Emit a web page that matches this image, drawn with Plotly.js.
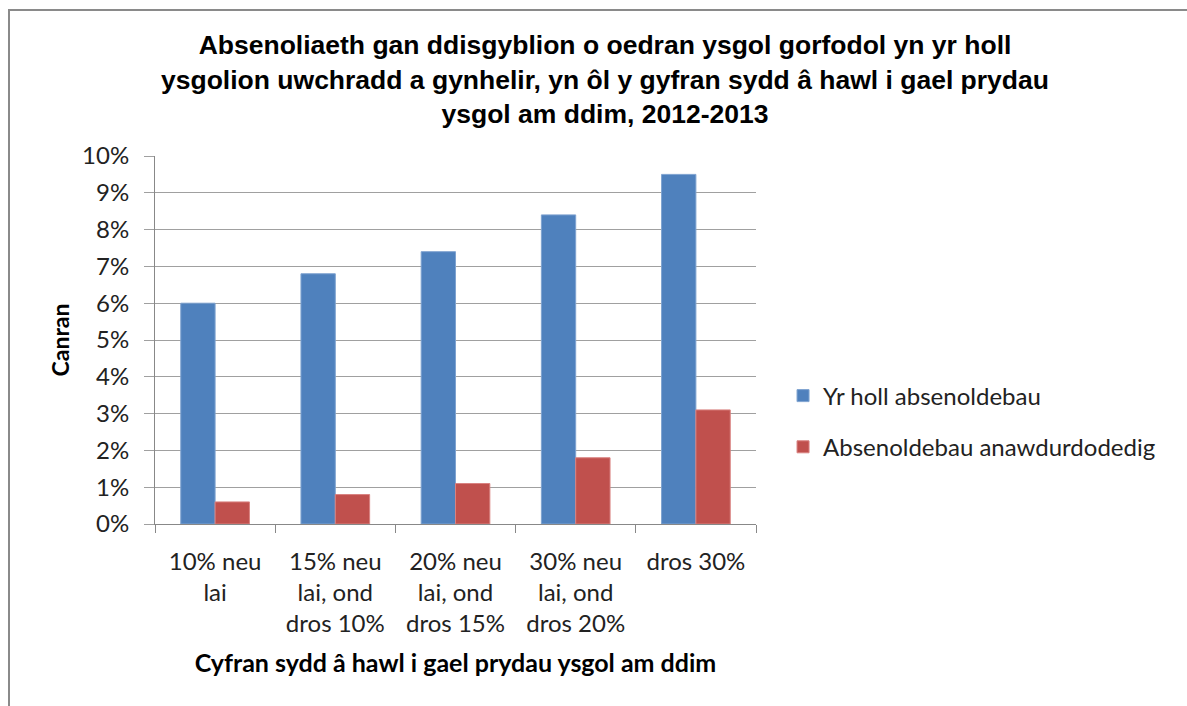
<!DOCTYPE html>
<html>
<head>
<meta charset="utf-8">
<script src="https://cdn.plot.ly/plotly-3.0.1.min.js"></script>
<style>
  html, body { margin: 0; padding: 0; background: #fff; }
  #wrap { position: relative; width: 1187px; height: 706px; overflow: hidden; }
  #frame { position: absolute; left: 8px; top: 9px; right: -10px; bottom: -10px;
           border-top: 2px solid #8a8a8a; border-left: 2px solid #8a8a8a; }
  #chart { position: absolute; left: 0; top: 0; width: 1187px; height: 706px; }
</style>
</head>
<body>
<div id="wrap">
  <div id="frame"></div>
  <div id="chart"></div>
</div>
<script>
const categories = [
  "10% neu<br>lai",
  "15% neu<br>lai, ond<br>dros 10%",
  "20% neu<br>lai, ond<br>dros 15%",
  "30% neu<br>lai, ond<br>dros 20%",
  "dros 30%"
];
const seriesNames = ["Yr holl absenoldebau", "Absenoldebau anawdurdodedig"];
const allAbsence = [0.060, 0.068, 0.074, 0.084, 0.095];
const unauthorisedAbsence = [0.006, 0.008, 0.011, 0.018, 0.031];
const yTickVals = [0, 0.01, 0.02, 0.03, 0.04, 0.05, 0.06, 0.07, 0.08, 0.09, 0.10];
const yTickText = ["0%", "1%", "2%", "3%", "4%", "5%", "6%", "7%", "8%", "9%", "10%"];
const titleText = "Absenoliaeth gan ddisgyblion o oedran ysgol gorfodol yn yr holl<br>ysgolion uwchradd a gynhelir, yn ôl y gyfran sydd â hawl i gael prydau<br>ysgol am ddim, 2012-2013";
const xTitle = "Cyfran sydd â hawl i gael prydau ysgol am ddim";
const yTitle = "Canran";

const bodyFont = "Lato, 'Open Sans', sans-serif";
const titleFont = "'Liberation Sans Narrow', 'Arial Narrow', 'Liberation Sans', sans-serif";

const traces = [
  { type: "bar", name: seriesNames[0], x: categories, y: allAbsence,
    marker: { color: "#4f81bd", line: { color: "#7fa3d0", width: 1 } }, legendgroup: "a" },
  { type: "bar", name: seriesNames[1], x: categories, y: unauthorisedAbsence,
    marker: { color: "#c0504d", line: { color: "#d98280", width: 1 } }, legendgroup: "b" }
];

const layout = {
  width: 1187, height: 706,
  paper_bgcolor: "rgba(0,0,0,0)", plot_bgcolor: "rgba(0,0,0,0)",
  margin: { l: 155, r: 431, t: 156, b: 182 },
  barmode: "group", bargap: 0.4286, bargroupgap: 0,
  title: { text: titleText, x: 0.5097, xanchor: "center", y: 0.9234, yanchor: "middle",
           font: { family: titleFont, size: 26.5, color: "#000", weight: "bold" } },
  xaxis: {
    showgrid: false, showline: true, linecolor: "#888", linewidth: 1,
    ticks: "outside", ticklen: 8, tickcolor: "#888", tickson: "boundaries",
    ticklabelstandoff: 16,
    tickfont: { family: bodyFont, size: 24, color: "#222" },
    title: { text: xTitle, standoff: 18, font: { family: bodyFont, size: 25, color: "#000", weight: "bold" } }
  },
  yaxis: {
    range: [0, 0.10], tickvals: yTickVals, ticktext: yTickText,
    showgrid: true, gridcolor: "#a0a0a0", gridwidth: 1,
    showline: true, linecolor: "#888", linewidth: 1,
    ticks: "outside", ticklen: 10, tickcolor: "#a0a0a0",
    ticklabelstandoff: 10,
    tickfont: { family: bodyFont, size: 24, color: "#222" },
    zeroline: false,
    title: { text: yTitle, standoff: 6, font: { family: bodyFont, size: 23, color: "#000", weight: "bold" } }
  },
  legend: { x: 1.045, xanchor: "left", xref: "paper", y: 0.2785, yanchor: "middle",
            font: { family: bodyFont, size: 24, color: "#222" },
            traceorder: "grouped", tracegroupgap: 17, itemwidth: 30,
            bgcolor: "rgba(0,0,0,0)" },
  showlegend: true
};

Plotly.newPlot("chart", traces, layout, { displayModeBar: false, staticPlot: true });
</script>
</body>
</html>
